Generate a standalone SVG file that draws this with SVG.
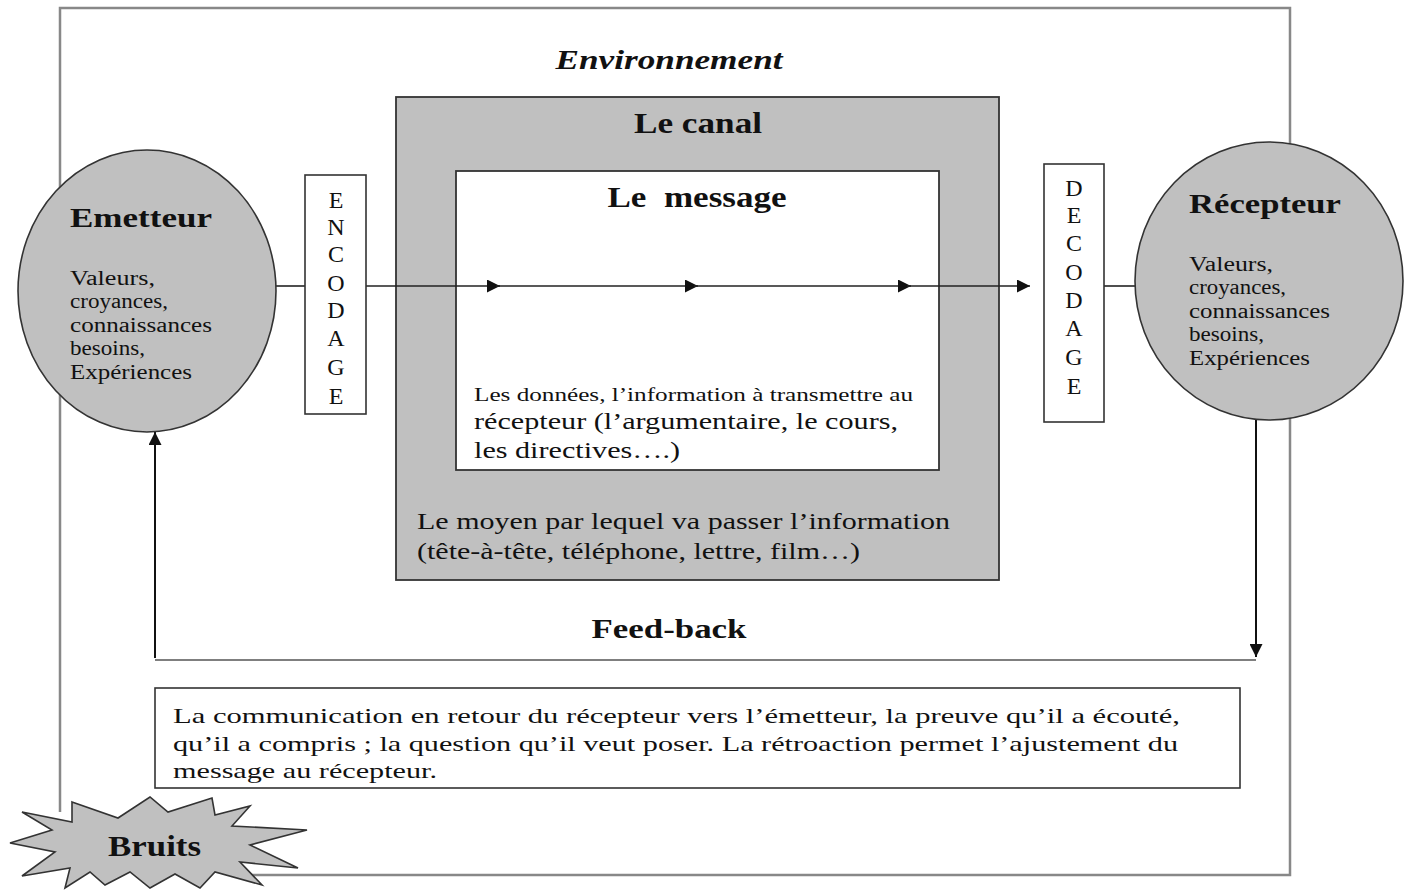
<svg xmlns="http://www.w3.org/2000/svg" width="1404" height="890" viewBox="0 0 1404 890">
<defs>
<style>
text{font-family:"Liberation Serif","Times New Roman",serif;fill:#111}
.b{font-weight:bold}
.lst{font-size:20px}
.let{font-size:24px;text-anchor:middle}
.ln{stroke:#222;stroke-width:1.6;fill:none}
.gl{stroke:#555;stroke-width:1.6;fill:none}
</style>
<marker id="ah2" viewBox="0 0 10 10" refX="10" refY="5" markerWidth="13" markerHeight="13" markerUnits="userSpaceOnUse" orient="auto"><path d="M0,0 L10,5 L0,10 Z" fill="#111"/></marker>
</defs>
<rect width="1404" height="890" fill="#fff"/>
<g id="environnement">
<path d="M60,812 L60,8 L1290,8 L1290,875 L230,875" stroke="#888" stroke-width="2.5" fill="none"/>
<text x="669" y="69" font-size="28" font-style="italic" class="b" text-anchor="middle" textLength="227" lengthAdjust="spacingAndGlyphs">Environnement</text>
</g>
<g id="canal">
<rect x="396" y="97" width="603" height="483" fill="#c0c0c0" stroke="#333" stroke-width="1.8"/>
<text x="698" y="133" font-size="30" class="b" text-anchor="middle" textLength="128" lengthAdjust="spacingAndGlyphs">Le canal</text>
<text x="417" y="529" font-size="24" textLength="533" lengthAdjust="spacingAndGlyphs">Le moyen par lequel va passer l’information</text>
<text x="417" y="559" font-size="24" textLength="443" lengthAdjust="spacingAndGlyphs">(tête-à-tête, téléphone, lettre, film…)</text>
</g>
<g id="message">
<rect x="456" y="171" width="483" height="299" fill="#fff" stroke="#333" stroke-width="1.8"/>
<text x="697" y="207" font-size="30" class="b" text-anchor="middle" xml:space="preserve" textLength="179" lengthAdjust="spacingAndGlyphs">Le  message</text>
<text x="474" y="401" font-size="19" textLength="439" lengthAdjust="spacingAndGlyphs">Les données, l’information à transmettre au</text>
<text x="474" y="429" font-size="24" textLength="424" lengthAdjust="spacingAndGlyphs">récepteur (l’argumentaire, le cours,</text>
<text x="474" y="458" font-size="24" textLength="206" lengthAdjust="spacingAndGlyphs">les directives….)</text>
</g>
<g id="connectors">
<line class="ln" x1="276" y1="286" x2="305" y2="286"/>
<line class="ln" x1="366" y1="286" x2="500" y2="286" marker-end="url(#ah2)"/>
<line class="ln" x1="496" y1="286" x2="698" y2="286" marker-end="url(#ah2)"/>
<line class="ln" x1="694" y1="286" x2="911" y2="286" marker-end="url(#ah2)"/>
<line class="ln" x1="907" y1="286" x2="1030" y2="286" marker-end="url(#ah2)"/>
<line class="ln" x1="1104" y1="286" x2="1136" y2="286"/>
<line x1="1256" y1="416" x2="1256" y2="657" stroke="#111" stroke-width="2" marker-end="url(#ah2)"/>
<line class="gl" x1="155" y1="660" x2="1256" y2="660"/>
<line x1="155" y1="658" x2="155" y2="432" stroke="#111" stroke-width="2" marker-end="url(#ah2)"/>
</g>
<g id="encodage">
<rect x="305" y="175" width="61" height="239" fill="#fff" stroke="#333" stroke-width="1.6"/>
<text class="let" x="336" y="208">E</text>
<text class="let" x="336" y="235">N</text>
<text class="let" x="336" y="262">C</text>
<text class="let" x="336" y="291">O</text>
<text class="let" x="336" y="318">D</text>
<text class="let" x="336" y="346">A</text>
<text class="let" x="336" y="375">G</text>
<text class="let" x="336" y="404">E</text>
</g>
<g id="decodage">
<rect x="1044" y="164" width="60" height="258" fill="#fff" stroke="#333" stroke-width="1.6"/>
<text class="let" x="1074" y="196">D</text>
<text class="let" x="1074" y="223">E</text>
<text class="let" x="1074" y="251">C</text>
<text class="let" x="1074" y="280">O</text>
<text class="let" x="1074" y="308">D</text>
<text class="let" x="1074" y="336">A</text>
<text class="let" x="1074" y="365">G</text>
<text class="let" x="1074" y="394">E</text>
</g>
<g id="emetteur">
<ellipse cx="147" cy="291" rx="129" ry="141" fill="#c0c0c0" stroke="#333" stroke-width="1.6"/>
<text x="70" y="227" font-size="28" class="b" textLength="142" lengthAdjust="spacingAndGlyphs">Emetteur</text>
<text class="lst" x="70" y="285" textLength="85" lengthAdjust="spacingAndGlyphs">Valeurs,</text>
<text class="lst" x="70" y="308" textLength="98" lengthAdjust="spacingAndGlyphs">croyances,</text>
<text class="lst" x="70" y="332" textLength="142" lengthAdjust="spacingAndGlyphs">connaissances</text>
<text class="lst" x="70" y="355" textLength="75" lengthAdjust="spacingAndGlyphs">besoins,</text>
<text class="lst" x="70" y="379" textLength="122" lengthAdjust="spacingAndGlyphs">Expériences</text>
</g>
<g id="recepteur">
<ellipse cx="1269" cy="281" rx="134" ry="139" fill="#c0c0c0" stroke="#333" stroke-width="1.6"/>
<text x="1189" y="213" font-size="28" class="b" textLength="152" lengthAdjust="spacingAndGlyphs">Récepteur</text>
<text class="lst" x="1189" y="271" textLength="84" lengthAdjust="spacingAndGlyphs">Valeurs,</text>
<text class="lst" x="1189" y="294" textLength="97" lengthAdjust="spacingAndGlyphs">croyances,</text>
<text class="lst" x="1189" y="318" textLength="141" lengthAdjust="spacingAndGlyphs">connaissances</text>
<text class="lst" x="1189" y="341" textLength="75" lengthAdjust="spacingAndGlyphs">besoins,</text>
<text class="lst" x="1189" y="365" textLength="121" lengthAdjust="spacingAndGlyphs">Expériences</text>
</g>
<g id="feedback">
<text x="669" y="638" font-size="28" class="b" text-anchor="middle" textLength="155" lengthAdjust="spacingAndGlyphs">Feed-back</text>
</g>
<g id="retroaction">
<rect x="155" y="688" width="1085" height="100" fill="#fff" stroke="#333" stroke-width="1.6"/>
<text x="173" y="723" font-size="22" textLength="1007" lengthAdjust="spacingAndGlyphs">La communication en retour du récepteur vers l’émetteur, la preuve qu’il a écouté,</text>
<text x="173" y="751" font-size="22" textLength="1005" lengthAdjust="spacingAndGlyphs">qu’il a compris ; la question qu’il veut poser. La rétroaction permet l’ajustement du</text>
<text x="173" y="778" font-size="22" textLength="264" lengthAdjust="spacingAndGlyphs">message au récepteur.</text>
</g>
<g id="bruits">
<polygon points="72,802 118,818 150,797 168,812 212,798 215,815 250,806 232,826 307,830 250,845 298,868 240,862 262,885 215,872 200,888 175,874 150,888 130,872 105,885 90,872 65,888 70,868 22,876 55,852 10,843 52,830 22,812 72,822" fill="#c0c0c0" stroke="#333" stroke-width="1.6"/>
<text x="108" y="856" font-size="29" class="b" textLength="93" lengthAdjust="spacingAndGlyphs">Bruits</text>
</g>
</svg>
